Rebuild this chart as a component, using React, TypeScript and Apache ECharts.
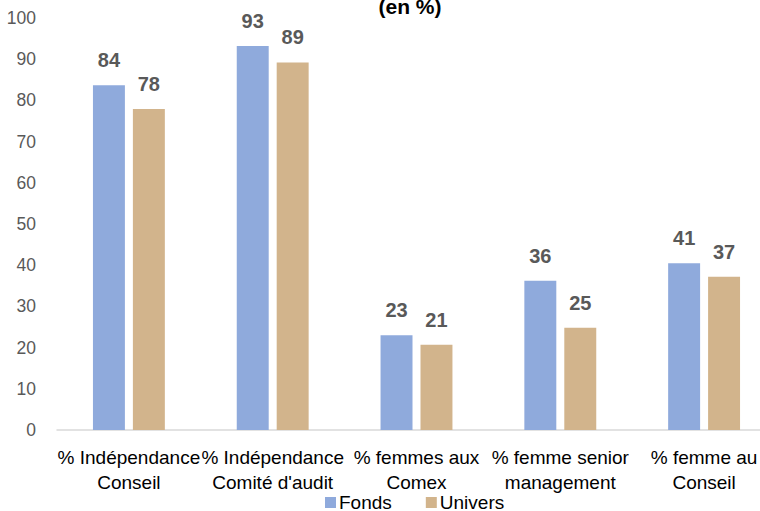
import React, { useEffect, useRef } from "react";
import * as echarts from "echarts";

const categories = [
  "% Indépendance\nConseil",
  "% Indépendance\nComité d'audit",
  "% femmes aux\nComex",
  "% femme senior\nmanagement",
  "% femme au\nConseil",
];
const fonds = [83.7, 93.2, 23.0, 36.2, 40.5];
const univers = [77.9, 89.2, 20.7, 24.8, 37.2];
const seriesNames = ["Fonds", "Univers"];
const titleText = "(en %)";

export default function App() {
  const ref = useRef<HTMLDivElement>(null);
  useEffect(() => {
    if (!ref.current) return;
    const chart = echarts.init(ref.current, undefined, { renderer: "svg" });
    const labelStyle = {
      show: true,
      position: "top" as const,
      distance: 15,
      fontSize: 20,
      fontWeight: "bold" as const,
      color: "#595959",
      fontFamily: "Liberation Sans, Arial, sans-serif",
      formatter: (p: any) => String(Math.round(p.value)),
    };
    chart.setOption({
      animation: false,
      backgroundColor: "#ffffff",
      textStyle: { fontFamily: "Liberation Sans, Arial, sans-serif" },
      title: {
        text: titleText,
        left: 405,
        textAlign: "center",
        top: -9,
        textStyle: { fontSize: 21, fontWeight: "bold", color: "#000000" },
      },
      legend: {
        data: seriesNames,
        bottom: -6,
        left: 320,
        itemWidth: 11,
        itemHeight: 11,
        itemGap: 34,
        icon: "rect",
        textStyle: { fontSize: 19, color: "#000000", padding: [0, 0, 0, -2] },
      },
      grid: { left: 57, top: 18, width: 719, height: 412, containLabel: false },
      xAxis: {
        type: "category",
        data: categories,
        axisLine: { lineStyle: { color: "#d9d9d9", width: 1.5 } },
        axisTick: { show: false },
        axisLabel: {
          interval: 0,
          fontSize: 19,
          color: "#000000",
          lineHeight: 25,
          margin: 15,
        },
      },
      yAxis: {
        type: "value",
        min: 0,
        max: 100,
        interval: 10,
        splitLine: { show: false },
        axisLine: { show: false },
        axisTick: { show: false },
        axisLabel: { fontSize: 17.5, color: "#595959", margin: 21 },
      },
      series: [
        {
          name: seriesNames[0],
          type: "bar",
          data: fonds,
          barGap: "25%",
          barCategoryGap: "50%",
          itemStyle: { color: "#8FAADC" },
          label: labelStyle,
        },
        {
          name: seriesNames[1],
          type: "bar",
          data: univers,
          itemStyle: { color: "#D2B48C" },
          label: labelStyle,
        },
      ],
    });
    return () => chart.dispose();
  }, []);
  return (
    <div style={{ width: 760, height: 511, position: "absolute", left: 0, top: 0, overflow: "hidden", background: "#fff" }}>
      <div ref={ref} style={{ width: 790, height: 511 }} />
    </div>
  );
}
